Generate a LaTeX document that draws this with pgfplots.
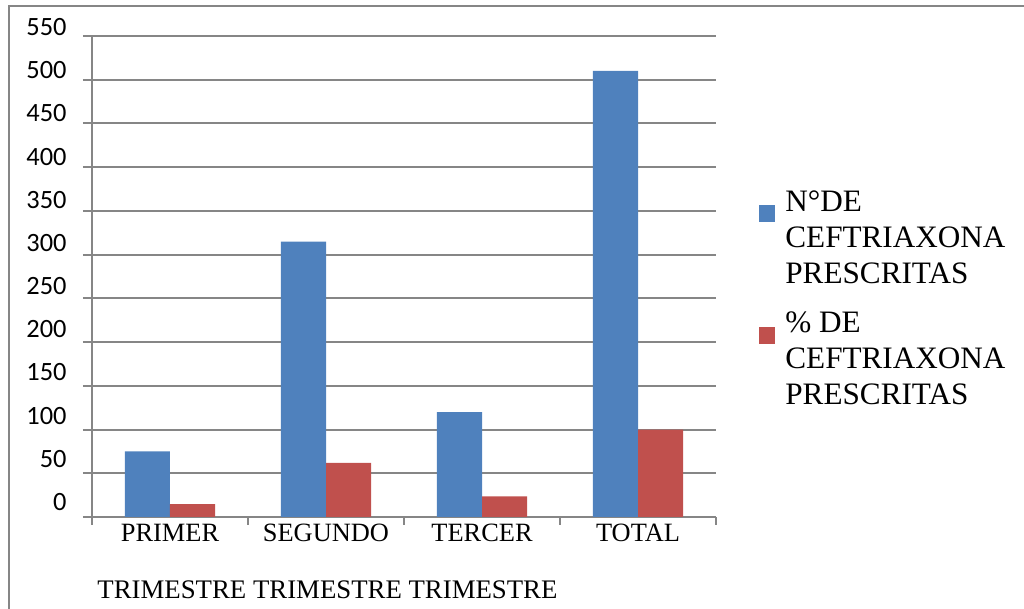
\documentclass[border=0pt]{standalone}
\usepackage{pgfplots}
\pgfplotsset{compat=1.18}
\usepackage{fontspec}
\setmainfont{Liberation Serif}
\newfontfamily\calib{Carlito}

\definecolor{serieA}{RGB}{79,129,189}
\definecolor{serieB}{RGB}{192,80,77}
\definecolor{linegray}{RGB}{134,134,134}

\begin{document}
\begin{tikzpicture}[x=1pt,y=1pt]
\useasboundingbox (0,0) rectangle (512,304.5);
% chart frame (left and top edges)
\draw[linegray,line width=1pt] (4.5,-5) -- (4.5,301.5) -- (520,301.5);

\begin{axis}[
  at={(46pt,46pt)}, anchor=south west,
  scale only axis, width=312pt, height=240.5pt,
  xmin=-0.5, xmax=3.5, ymin=0, ymax=550,
  axis x line=bottom, axis y line=left,
  axis line style={-, linegray, line width=1pt},
  ymajorgrids, grid style={linegray, line width=1pt},
  ytick={0,50,...,550},
  xtick={0,1,2,3},
  xticklabels={PRIMER,SEGUNDO,TERCER,TOTAL},
  xtick style={draw=none},
  extra x ticks={-0.5,0.5,1.5,2.5,3.5},
  extra x tick labels={},
  extra x tick style={xtick style={draw=linegray, line width=1pt}, major tick length=4pt},
  ytick style={draw=linegray, line width=1pt},
  tick align=outside, major tick length=4.5pt,
  /pgf/number format/assume math mode=true,
  yticklabel style={font=\calib\fontsize{13.2}{15}\selectfont, anchor=east, inner sep=0pt,
    xshift=-8pt, yshift={(7.5-0.005455*\tick)*1pt}},
  xticklabel style={font=\fontsize{13.2}{15}\selectfont, anchor=base, inner sep=0pt, yshift=-8pt},
  ybar=0pt, bar width=0.2885,
  legend style={at={(1.0689,0.6886)}, anchor=north west, draw=none, fill=none,
    inner sep=0pt, row sep=42.5pt, column sep=5pt,
    cells={anchor=base west}, nodes={inner sep=0pt},
    font=\fontsize{15.6}{18}\selectfont},
  legend image code/.code={\fill[#1] (0pt,-5.5pt) rectangle (8pt,3pt);},
]
\addplot[fill=serieA, draw=none] coordinates {(0,75) (1,315) (2,120) (3,510)};
\addplot[fill=serieB, draw=none] coordinates {(0,14.71) (1,61.76) (2,23.53) (3,100)};
\addlegendentry{\begin{tabular}[t]{@{}l@{}}N°DE\\ CEFTRIAXONA\\ PRESCRITAS\end{tabular}}
\addlegendentry{\begin{tabular}[t]{@{}l@{}}\% DE\\ CEFTRIAXONA\\ PRESCRITAS\end{tabular}}
\end{axis}

\node[anchor=base west, inner sep=0pt, font=\fontsize{13.4}{15}\selectfont]
  at (48.5,5) {TRIMESTRE TRIMESTRE TRIMESTRE};
\end{tikzpicture}
\end{document}
